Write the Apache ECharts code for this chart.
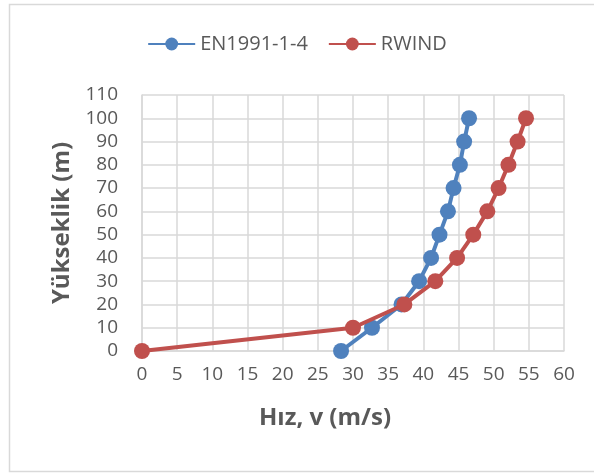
<!DOCTYPE html>
<html><head><meta charset="utf-8">
<script src="https://cdn.jsdelivr.net/npm/echarts@6/dist/echarts.min.js"></script>
<style>html,body{margin:0;padding:0;background:#fff}#c{width:594px;height:473px}</style>
</head><body><div id="c"></div>
<script>
var heights = [0, 10, 20, 30, 40, 50, 60, 70, 80, 90, 100];
var enSpeeds = [28.3, 32.7, 36.9, 39.4, 41.1, 42.3, 43.5, 44.3, 45.2, 45.8, 46.5];
var rwindSpeeds = [0, 30.0, 37.3, 41.7, 44.8, 47.1, 49.1, 50.7, 52.1, 53.4, 54.6];
var seriesNames = ['EN1991-1-4', 'RWIND'];
var xTitle = 'Hız, v (m/s)';
var yTitle = 'Yükseklik (m)';

function pairs(xs, ys){ return xs.map(function(v,i){ return [v, ys[i]]; }); }
var font = '"Open Sans", "Noto Sans", sans-serif';
var chart = echarts.init(document.getElementById('c'), null, {renderer:'canvas'});
chart.setOption({
  animation:false,
  backgroundColor:'#fff',
  graphic:[{type:'rect', shape:{x:9.5,y:4.5,width:600,height:467}, style:{fill:'none',stroke:'#D9D9D9',lineWidth:1.5}, silent:true}],
  legend:{
    top:29, left:'center', itemWidth:47, itemHeight:16, itemGap:20,
    textStyle:{fontFamily:font, fontSize:20, color:'#595959'},
    data:seriesNames
  },
  grid:{left:142, right:30, top:95, bottom:122},
  xAxis:{
    type:'value', min:0, max:60, interval:5,
    name:xTitle, nameLocation:'middle', nameGap:55,
    nameTextStyle:{fontFamily:font, fontSize:24, fontWeight:'bold', color:'#595959', padding:[0,56,0,0]},
    axisLine:{show:true, lineStyle:{color:'#D9D9D9', width:1.5}},
    axisTick:{show:false},
    axisLabel:{fontFamily:font, fontSize:19, color:'#595959', margin:14},
    splitLine:{show:true, lineStyle:{color:'#D9D9D9', width:1.5}}
  },
  yAxis:{
    type:'value', min:0, max:110, interval:10,
    name:yTitle, nameLocation:'middle', nameGap:68, nameRotate:90,
    nameTextStyle:{fontFamily:font, fontSize:24, fontWeight:'bold', color:'#595959'},
    axisLine:{show:true, lineStyle:{color:'#D9D9D9', width:1.5}},
    axisTick:{show:false},
    axisLabel:{fontFamily:font, fontSize:19, color:'#595959', margin:24},
    splitLine:{show:true, lineStyle:{color:'#D9D9D9', width:1.5}}
  },
  series:[
    {name:seriesNames[0], type:'line', data:pairs(enSpeeds, heights), color:'#4F81BD',
     symbol:'circle', symbolSize:16, lineStyle:{width:4}, z:2},
    {name:seriesNames[1], type:'line', data:pairs(rwindSpeeds, heights), color:'#C0504D',
     symbol:'circle', symbolSize:16, lineStyle:{width:4}, z:3}
  ]
});
</script></body></html>
